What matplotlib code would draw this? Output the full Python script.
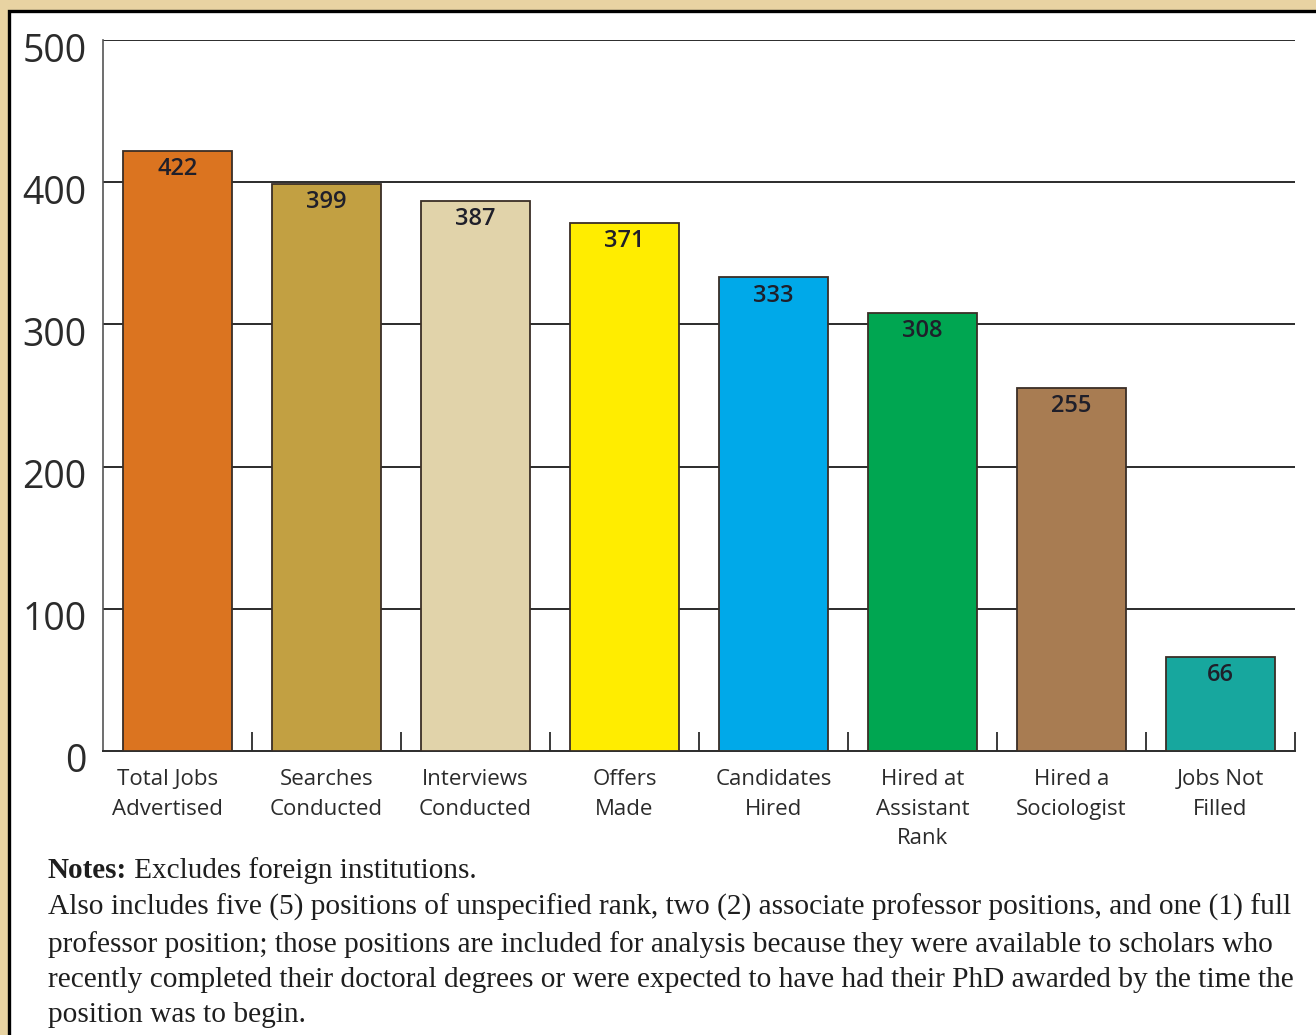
import matplotlib.pyplot as plt
from matplotlib.patches import Rectangle
from matplotlib.transforms import ScaledTranslation
import numpy as np

categories = ["Total Jobs\nAdvertised", "Searches\nConducted", "Interviews\nConducted",
              "Offers\nMade", "Candidates\nHired", "Hired at\nAssistant\nRank",
              "Hired a\nSociologist", "Jobs Not\nFilled"]
counts = [422, 399, 387, 371, 333, 308, 255, 66]
bar_colors = ["#DB7420", "#C2A042", "#E1D3AA", "#FFED00", "#00A9E9",
              "#00A651", "#A87C52", "#17A79E"]
y_ticks = [0, 100, 200, 300, 400, 500]

notes_head = "Notes:"
notes_first = "Excludes foreign institutions."
notes_body = ("Also includes five (5) positions of unspecified rank, two (2) associate professor positions, and one (1) full\n"
              "professor position; those positions are included for analysis because they were available to scholars who\n"
              "recently completed their doctoral degrees or were expected to have had their PhD awarded by the time the\n"
              "position was to begin.")

sans = "Open Sans"
serif = "Liberation Serif"
dark = "#2b2b2b"
edge = "#3a2e26"

fig = plt.figure(figsize=(13.16, 10.35), dpi=100)
fig.patch.set_facecolor("#E8D3A2")
# white page with black frame along top and left
fig.patches.append(Rectangle((8.5 / 1316, -0.01), 1.02, 1 - 11.5 / 1035 + 0.01,
                             transform=fig.transFigure, facecolor="white",
                             edgecolor="black", linewidth=2.4, zorder=-5))

ax = fig.add_axes([103 / 1316, 1 - 751 / 1035, (1295 - 103) / 1316, (751 - 40) / 1035])
ax.set_facecolor("white")
x = np.arange(len(categories))
bars = ax.bar(x, counts, width=0.725, color=bar_colors, edgecolor=edge,
              linewidth=1.3, zorder=3)

for xi, v in zip(x, counts):
    ax.annotate(str(v), (xi, v), xytext=(0, -13), textcoords="offset points",
                ha="center", va="center", fontsize=17, fontweight="semibold",
                family=sans, color="#1f1f2a", zorder=4)

ax.set_xlim(-0.5, len(categories) - 0.5)
ax.set_ylim(0, 500)
ax.set_yticks(y_ticks)
ax.set_yticklabels([str(t) for t in y_ticks], fontsize=27, family=sans, color=dark)
ax.tick_params(axis="y", length=0, pad=12)
shift_down = ScaledTranslation(0, -7 / 100, fig.dpi_scale_trans)
for lbl in ax.get_yticklabels():
    lbl.set_transform(lbl.get_transform() + shift_down)
for t in y_ticks[1:]:
    ax.axhline(t, color=dark, linewidth=1.4, zorder=1)

ax.set_xticks(x)
ax.set_xticklabels(categories, fontsize=16, family=sans, color=dark, linespacing=1.53)
ax.tick_params(axis="x", which="major", length=0, pad=13)
first = ax.get_xticklabels()[0]
first.set_transform(first.get_transform() + ScaledTranslation(-10 / 100, 0, fig.dpi_scale_trans))
ax.set_xticks(np.arange(len(categories)) + 0.5, minor=True)
ax.tick_params(axis="x", which="minor", direction="in", length=13.5, width=1.3, color=dark)

for side in ["top", "right"]:
    ax.spines[side].set_visible(False)
ax.spines["left"].set_color("#555555")
ax.spines["left"].set_linewidth(1.2)
ax.spines["bottom"].set_color(dark)
ax.spines["bottom"].set_linewidth(1.4)

# notes block below the chart
head = fig.text(48 / 1316, 1 - 871 / 1035, notes_head, fontsize=21, family=serif,
                fontweight="bold", color="#1e1e1e", va="center")
ax.annotate(" " + notes_first, xy=(1, 0.5), xycoords=head, fontsize=21, family=serif,
            color="#1e1e1e", va="center", ha="left", annotation_clip=False)
fig.text(48 / 1316, 1 - 894 / 1035, notes_body, fontsize=21.2, family=serif,
         color="#1e1e1e", va="top", linespacing=1.46)

fig.savefig("out.png", dpi=100, facecolor=fig.get_facecolor())
